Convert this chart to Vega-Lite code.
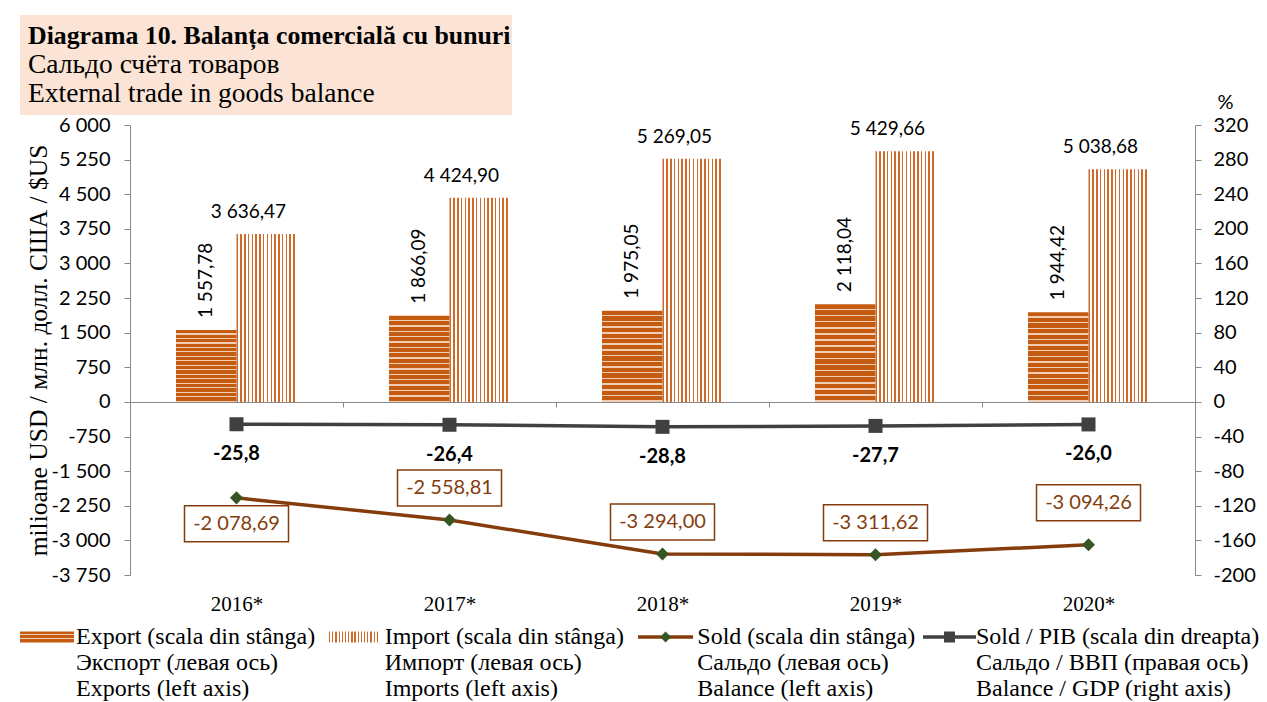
{
  "$schema": "https://vega.github.io/schema/vega-lite/v6.json",
  "padding": {"left": 20, "top": 15, "right": 5, "bottom": 0},
  "background": "white",
  "spacing": 10,
  "bounds": "flush",
  "config": {
    "view": {"stroke": null},
    "locale": {"number": {"decimal": ",", "thousands": " ", "grouping": [3], "currency": ["", ""], "minus": "-"}},
    "axis": {"domainColor": "#898989", "tickColor": "#898989", "labelFont": "Lato", "labelFontSize": 20, "labelColor": "#000000", "titleFont": "Liberation Serif", "titleFontWeight": "normal", "titleFontSize": 25.5, "titleColor": "#000000", "grid": false, "tickSize": 6, "labelOverlap": false}
  },
  "vconcat": [
    {
      "width": 492,
      "height": 100,
      "view": {"fill": "#FBE4D5", "stroke": null},
      "data": {"values": [
        {"line": 1, "text": "Diagrama 10. Balanța comercială cu bunuri"},
        {"line": 2, "text": "Сальдо счёта товаров"},
        {"line": 3, "text": "External trade in goods balance"}
      ]},
      "encoding": {
        "x": {"datum": 0, "type": "quantitative", "scale": {"domain": [0, 1]}, "axis": null},
        "y": {"field": "line", "type": "ordinal", "scale": {"type": "point", "padding": 0.7}, "axis": null},
        "text": {"field": "text"}
      },
      "layer": [
        {"transform": [{"filter": "datum.line === 1"}], "mark": {"type": "text", "align": "left", "baseline": "middle", "dx": 8, "font": "Liberation Serif", "fontSize": 25.8, "fontWeight": "bold", "color": "#000000"}},
        {"transform": [{"filter": "datum.line > 1"}], "mark": {"type": "text", "align": "left", "baseline": "middle", "dx": 8, "font": "Liberation Serif", "fontSize": 27.5, "fontWeight": "normal", "color": "#000000"}}
      ]
    },
    {
      "spacing": 10,
      "vconcat": [
        {
          "spacing": 0,
          "bounds": "flush",
          "hconcat": [
            {"width": 110, "height": 450, "data": {"values": []}, "mark": "point"},
            {
              "width": 1065,
              "height": 450,
              "data": {"values": [
                {"year": "2016*", "export": 1557.78, "import": 3636.47, "sold": -2078.69, "ratio": -25.8},
                {"year": "2017*", "export": 1866.09, "import": 4424.90, "sold": -2558.81, "ratio": -26.4},
                {"year": "2018*", "export": 1975.05, "import": 5269.05, "sold": -3294.00, "ratio": -28.8},
                {"year": "2019*", "export": 2118.04, "import": 5429.66, "sold": -3311.62, "ratio": -27.7},
                {"year": "2020*", "export": 1944.42, "import": 5038.68, "sold": -3094.26, "ratio": -26.0}
              ]},
              "encoding": {
                "x": {"field": "year", "type": "nominal", "sort": null, "title": null,
                  "scale": {"paddingInner": 0, "paddingOuter": 0},
                  "axis": {"offset": -173, "labelAngle": 0, "labelFont": "Liberation Serif", "labelFontSize": 21, "labelPadding": 186, "labelBaseline": "top", "tickBand": "extent", "tickSize": 5}}
              },
              "layer": [
                {
                  "layer": [
                    {
                      "transform": [{"fold": ["export", "import"], "as": ["series", "val"]}, {"filter": "datum.series === 'export'"}],
                      "mark": {"type": "bar", "strokeWidth": 0, "fill": {"gradient": "linear", "x1": 0, "y1": 0, "x2": 0, "y2": 1, "stops": [
                        {"offset": 0, "color": "#C55A11"}, {"offset": 0.0465, "color": "#C55A11"}, {"offset": 0.0465, "color": "#F0CDB3"}, {"offset": 0.0625, "color": "#F0CDB3"},
                        {"offset": 0.0625, "color": "#C55A11"}, {"offset": 0.109, "color": "#C55A11"}, {"offset": 0.109, "color": "#F0CDB3"}, {"offset": 0.125, "color": "#F0CDB3"},
                        {"offset": 0.125, "color": "#C55A11"}, {"offset": 0.1715, "color": "#C55A11"}, {"offset": 0.1715, "color": "#F0CDB3"}, {"offset": 0.1875, "color": "#F0CDB3"},
                        {"offset": 0.1875, "color": "#C55A11"}, {"offset": 0.234, "color": "#C55A11"}, {"offset": 0.234, "color": "#F0CDB3"}, {"offset": 0.25, "color": "#F0CDB3"},
                        {"offset": 0.25, "color": "#C55A11"}, {"offset": 0.2965, "color": "#C55A11"}, {"offset": 0.2965, "color": "#F0CDB3"}, {"offset": 0.3125, "color": "#F0CDB3"},
                        {"offset": 0.3125, "color": "#C55A11"}, {"offset": 0.359, "color": "#C55A11"}, {"offset": 0.359, "color": "#F0CDB3"}, {"offset": 0.375, "color": "#F0CDB3"},
                        {"offset": 0.375, "color": "#C55A11"}, {"offset": 0.4215, "color": "#C55A11"}, {"offset": 0.4215, "color": "#F0CDB3"}, {"offset": 0.4375, "color": "#F0CDB3"},
                        {"offset": 0.4375, "color": "#C55A11"}, {"offset": 0.484, "color": "#C55A11"}, {"offset": 0.484, "color": "#F0CDB3"}, {"offset": 0.5, "color": "#F0CDB3"},
                        {"offset": 0.5, "color": "#C55A11"}, {"offset": 0.5465, "color": "#C55A11"}, {"offset": 0.5465, "color": "#F0CDB3"}, {"offset": 0.5625, "color": "#F0CDB3"},
                        {"offset": 0.5625, "color": "#C55A11"}, {"offset": 0.609, "color": "#C55A11"}, {"offset": 0.609, "color": "#F0CDB3"}, {"offset": 0.625, "color": "#F0CDB3"},
                        {"offset": 0.625, "color": "#C55A11"}, {"offset": 0.6715, "color": "#C55A11"}, {"offset": 0.6715, "color": "#F0CDB3"}, {"offset": 0.6875, "color": "#F0CDB3"},
                        {"offset": 0.6875, "color": "#C55A11"}, {"offset": 0.734, "color": "#C55A11"}, {"offset": 0.734, "color": "#F0CDB3"}, {"offset": 0.75, "color": "#F0CDB3"},
                        {"offset": 0.75, "color": "#C55A11"}, {"offset": 0.7965, "color": "#C55A11"}, {"offset": 0.7965, "color": "#F0CDB3"}, {"offset": 0.8125, "color": "#F0CDB3"},
                        {"offset": 0.8125, "color": "#C55A11"}, {"offset": 0.859, "color": "#C55A11"}, {"offset": 0.859, "color": "#F0CDB3"}, {"offset": 0.875, "color": "#F0CDB3"},
                        {"offset": 0.875, "color": "#C55A11"}, {"offset": 0.9215, "color": "#C55A11"}, {"offset": 0.9215, "color": "#F0CDB3"}, {"offset": 0.9375, "color": "#F0CDB3"},
                        {"offset": 0.9375, "color": "#C55A11"}, {"offset": 0.984, "color": "#C55A11"}, {"offset": 0.984, "color": "#F0CDB3"}, {"offset": 1, "color": "#F0CDB3"}
                      ]}},
                      "encoding": {
                        "y": {"field": "val", "type": "quantitative", "title": "milioane USD / млн. долл. США / $US",
                          "scale": {"domain": [-3750, 6000], "nice": false, "zero": false},
                          "axis": {"orient": "left", "values": [-3750, -3000, -2250, -1500, -750, 0, 750, 1500, 2250, 3000, 3750, 4500, 5250, 6000], "tickCount": 20, "format": ",.0f", "labelPadding": 14, "titlePadding": 0, "labelOverlap": false}},
                        "xOffset": {"field": "series", "type": "nominal", "scale": {"domain": ["export", "import"], "paddingInner": 0, "paddingOuter": 0.76}}
                      }
                    },
                    {
                      "transform": [{"fold": ["export", "import"], "as": ["series", "val"]}, {"filter": "datum.series === 'import'"}],
                      "mark": {"type": "bar", "strokeWidth": 0, "fill": {"gradient": "linear", "x1": 0, "y1": 0, "x2": 1, "y2": 0, "stops": [
                        {"offset": 0, "color": "#CF6A2A"}, {"offset": 0.025, "color": "#CF6A2A"}, {"offset": 0.025, "color": "#FFFFFF"}, {"offset": 0.0625, "color": "#FFFFFF"},
                        {"offset": 0.0625, "color": "#CF6A2A"}, {"offset": 0.0875, "color": "#CF6A2A"}, {"offset": 0.0875, "color": "#FFFFFF"}, {"offset": 0.125, "color": "#FFFFFF"},
                        {"offset": 0.125, "color": "#CF6A2A"}, {"offset": 0.15, "color": "#CF6A2A"}, {"offset": 0.15, "color": "#FFFFFF"}, {"offset": 0.1875, "color": "#FFFFFF"},
                        {"offset": 0.1875, "color": "#CF6A2A"}, {"offset": 0.2125, "color": "#CF6A2A"}, {"offset": 0.2125, "color": "#FFFFFF"}, {"offset": 0.25, "color": "#FFFFFF"},
                        {"offset": 0.25, "color": "#CF6A2A"}, {"offset": 0.275, "color": "#CF6A2A"}, {"offset": 0.275, "color": "#FFFFFF"}, {"offset": 0.3125, "color": "#FFFFFF"},
                        {"offset": 0.3125, "color": "#CF6A2A"}, {"offset": 0.3375, "color": "#CF6A2A"}, {"offset": 0.3375, "color": "#FFFFFF"}, {"offset": 0.375, "color": "#FFFFFF"},
                        {"offset": 0.375, "color": "#CF6A2A"}, {"offset": 0.4, "color": "#CF6A2A"}, {"offset": 0.4, "color": "#FFFFFF"}, {"offset": 0.4375, "color": "#FFFFFF"},
                        {"offset": 0.4375, "color": "#CF6A2A"}, {"offset": 0.4625, "color": "#CF6A2A"}, {"offset": 0.4625, "color": "#FFFFFF"}, {"offset": 0.5, "color": "#FFFFFF"},
                        {"offset": 0.5, "color": "#CF6A2A"}, {"offset": 0.525, "color": "#CF6A2A"}, {"offset": 0.525, "color": "#FFFFFF"}, {"offset": 0.5625, "color": "#FFFFFF"},
                        {"offset": 0.5625, "color": "#CF6A2A"}, {"offset": 0.5875, "color": "#CF6A2A"}, {"offset": 0.5875, "color": "#FFFFFF"}, {"offset": 0.625, "color": "#FFFFFF"},
                        {"offset": 0.625, "color": "#CF6A2A"}, {"offset": 0.65, "color": "#CF6A2A"}, {"offset": 0.65, "color": "#FFFFFF"}, {"offset": 0.6875, "color": "#FFFFFF"},
                        {"offset": 0.6875, "color": "#CF6A2A"}, {"offset": 0.7125, "color": "#CF6A2A"}, {"offset": 0.7125, "color": "#FFFFFF"}, {"offset": 0.75, "color": "#FFFFFF"},
                        {"offset": 0.75, "color": "#CF6A2A"}, {"offset": 0.775, "color": "#CF6A2A"}, {"offset": 0.775, "color": "#FFFFFF"}, {"offset": 0.8125, "color": "#FFFFFF"},
                        {"offset": 0.8125, "color": "#CF6A2A"}, {"offset": 0.8375, "color": "#CF6A2A"}, {"offset": 0.8375, "color": "#FFFFFF"}, {"offset": 0.875, "color": "#FFFFFF"},
                        {"offset": 0.875, "color": "#CF6A2A"}, {"offset": 0.9, "color": "#CF6A2A"}, {"offset": 0.9, "color": "#FFFFFF"}, {"offset": 0.9375, "color": "#FFFFFF"},
                        {"offset": 0.9375, "color": "#CF6A2A"}, {"offset": 0.9625, "color": "#CF6A2A"}, {"offset": 0.9625, "color": "#FFFFFF"}, {"offset": 1, "color": "#FFFFFF"}
                      ]}},
                      "encoding": {
                        "y": {"field": "val", "type": "quantitative", "title": "milioane USD / млн. долл. США / $US"},
                        "xOffset": {"field": "series", "type": "nominal", "scale": {"domain": ["export", "import"], "paddingInner": 0, "paddingOuter": 0.76}}
                      }
                    },
                    {
                      "transform": [{"fold": ["export", "import"], "as": ["series", "val"]}, {"filter": "datum.series === 'export'"}],
                      "mark": {"type": "text", "angle": 270, "align": "left", "baseline": "middle", "dx": 12, "font": "Lato", "fontSize": 19, "color": "#000000"},
                      "encoding": {
                        "y": {"field": "val", "type": "quantitative", "title": "milioane USD / млн. долл. США / $US"},
                        "xOffset": {"field": "series", "type": "nominal", "scale": {"domain": ["export", "import"], "paddingInner": 0, "paddingOuter": 0.76}},
                        "text": {"field": "val", "type": "quantitative", "format": ",.2f"}
                      }
                    },
                    {
                      "mark": {"type": "text", "align": "center", "baseline": "middle", "dx": 12, "dy": -22, "font": "Lato", "fontSize": 19, "color": "#000000"},
                      "encoding": {
                        "y": {"field": "import", "type": "quantitative", "title": "milioane USD / млн. долл. США / $US"},
                        "text": {"field": "import", "type": "quantitative", "format": ",.2f"}
                      }
                    },
                    {
                      "mark": {"type": "line", "color": "#843C0C", "strokeWidth": 3.5},
                      "encoding": {"y": {"field": "sold", "type": "quantitative", "title": "milioane USD / млн. долл. США / $US"}}
                    },
                    {
                      "mark": {"type": "point", "shape": "diamond", "filled": true, "size": 170, "color": "#375623", "opacity": 1},
                      "encoding": {"y": {"field": "sold", "type": "quantitative", "title": "milioane USD / млн. долл. США / $US"}}
                    },
                    {
                      "mark": {"type": "point", "filled": true, "fill": "#FFFFFF", "stroke": "#843C0C", "strokeWidth": 1.5, "size": 10816, "opacity": 1},
                      "encoding": {
                        "y": {"field": "sold", "type": "quantitative", "title": "milioane USD / млн. долл. США / $US"},
                        "shape": {"condition": [
                          {"test": "datum.year === '2016*'", "value": "M-1,0.154H1V0.846H-1Z"},
                          {"test": "datum.year === '2020*'", "value": "M-1,-1.154H1V-0.462H-1Z"}
                        ], "value": "M-1,-0.961H1V-0.269H-1Z"}
                      }
                    },
                    {
                      "transform": [{"filter": "datum.year === '2016*'"}],
                      "mark": {"type": "text", "align": "center", "baseline": "middle", "dy": 26, "font": "Lato", "fontSize": 20, "color": "#843C0C"},
                      "encoding": {
                        "y": {"field": "sold", "type": "quantitative", "title": "milioane USD / млн. долл. США / $US"},
                        "text": {"field": "sold", "type": "quantitative", "format": ",.2f"}
                      }
                    },
                    {
                      "transform": [{"filter": "datum.year === '2017*' || datum.year === '2018*' || datum.year === '2019*'"}],
                      "mark": {"type": "text", "align": "center", "baseline": "middle", "dy": -32, "font": "Lato", "fontSize": 20, "color": "#843C0C"},
                      "encoding": {
                        "y": {"field": "sold", "type": "quantitative", "title": "milioane USD / млн. долл. США / $US"},
                        "text": {"field": "sold", "type": "quantitative", "format": ",.2f"}
                      }
                    },
                    {
                      "transform": [{"filter": "datum.year === '2020*'"}],
                      "mark": {"type": "text", "align": "center", "baseline": "middle", "dy": -42, "font": "Lato", "fontSize": 20, "color": "#843C0C"},
                      "encoding": {
                        "y": {"field": "sold", "type": "quantitative", "title": "milioane USD / млн. долл. США / $US"},
                        "text": {"field": "sold", "type": "quantitative", "format": ",.2f"}
                      }
                    }
                  ]
                },
                {
                  "layer": [
                    {
                      "mark": {"type": "line", "color": "#404040", "strokeWidth": 3.5},
                      "encoding": {"y": {"field": "ratio", "type": "quantitative", "title": "%",
                        "scale": {"domain": [-200, 320], "nice": false, "zero": false},
                        "axis": {"orient": "right", "values": [-200, -160, -120, -80, -40, 0, 40, 80, 120, 160, 200, 240, 280, 320], "tickCount": 20, "format": ".0f", "labelPadding": 12, "labelOverlap": false, "titleAngle": 0, "titleFont": "Lato", "titleFontSize": 20, "titleX": 30, "titleY": -23, "titleAlign": "center", "titleBaseline": "middle"}}}
                    },
                    {
                      "mark": {"type": "point", "shape": "square", "filled": true, "size": 196, "color": "#404040", "opacity": 1},
                      "encoding": {"y": {"field": "ratio", "type": "quantitative", "title": "%"}}
                    },
                    {
                      "mark": {"type": "text", "align": "center", "baseline": "middle", "dy": 30, "font": "Lato", "fontSize": 20, "fontWeight": "bold", "color": "#000000"},
                      "encoding": {
                        "y": {"field": "ratio", "type": "quantitative", "title": "%"},
                        "text": {"field": "ratio", "type": "quantitative", "format": ".1f"}
                      }
                    }
                  ]
                }
              ],
              "resolve": {"scale": {"y": "independent"}}
            }
          ]
        },
        {
          "width": 905,
          "height": 78,
          "data": {"values": [
            {"item": "Export", "line": 1, "text": "Export (scala din stânga)"},
            {"item": "Export", "line": 2, "text": "Экспорт (левая ось)"},
            {"item": "Export", "line": 3, "text": "Exports (left axis)"},
            {"item": "Import", "line": 1, "text": "Import (scala din stânga)"},
            {"item": "Import", "line": 2, "text": "Импорт (левая ось)"},
            {"item": "Import", "line": 3, "text": "Imports (left axis)"},
            {"item": "Sold", "line": 1, "text": "Sold (scala din stânga)"},
            {"item": "Sold", "line": 2, "text": "Сальдо (левая ось)"},
            {"item": "Sold", "line": 3, "text": "Balance (left axis)"},
            {"item": "Ratio", "line": 1, "text": "Sold / PIB (scala din dreapta)"},
            {"item": "Ratio", "line": 2, "text": "Сальдо / ВВП (правая ось)"},
            {"item": "Ratio", "line": 3, "text": "Balance / GDP (right axis)"}
          ]},
          "encoding": {
            "x": {"field": "item", "type": "nominal", "sort": null, "scale": {"type": "point", "padding": 0, "domain": ["Export", "Import", "Sold", "Ratio"]}, "axis": null},
            "y": {"field": "line", "type": "ordinal", "scale": {"type": "point", "padding": 0.5}, "axis": null},
            "text": {"field": "text"}
          },
          "layer": [
            {
              "transform": [{"filter": "datum.item === 'Export'"}],
              "mark": {"type": "text", "align": "left", "baseline": "middle", "dx": 56, "font": "Liberation Serif", "fontSize": 24, "color": "#000000"}
            },
            {
              "transform": [{"filter": "datum.item === 'Import'"}],
              "mark": {"type": "text", "align": "left", "baseline": "middle", "dx": 63, "font": "Liberation Serif", "fontSize": 24, "color": "#000000"}
            },
            {
              "transform": [{"filter": "datum.item === 'Sold'"}],
              "mark": {"type": "text", "align": "left", "baseline": "middle", "dx": 74, "font": "Liberation Serif", "fontSize": 24, "color": "#000000"}
            },
            {
              "transform": [{"filter": "datum.item === 'Ratio'"}],
              "mark": {"type": "text", "align": "left", "baseline": "middle", "dx": 51, "font": "Liberation Serif", "fontSize": 24, "color": "#000000"}
            },
            {
              "transform": [{"filter": "datum.item === 'Export' && datum.line === 1"}],
              "mark": {"type": "point", "filled": true, "opacity": 1, "strokeWidth": 0, "shape": "M0,-0.2H1.964V0.2H0Z", "size": 3025, "fill": {"gradient": "linear", "x1": 0, "y1": 0, "x2": 0, "y2": 1, "stops": [
                {"offset": 0, "color": "#C55A11"}, {"offset": 0.25, "color": "#C55A11"}, {"offset": 0.25, "color": "#F0CDB3"}, {"offset": 0.35, "color": "#F0CDB3"},
                {"offset": 0.35, "color": "#C55A11"}, {"offset": 0.6, "color": "#C55A11"}, {"offset": 0.6, "color": "#F0CDB3"}, {"offset": 0.7, "color": "#F0CDB3"},
                {"offset": 0.7, "color": "#C55A11"}, {"offset": 1, "color": "#C55A11"}
              ]}}
            },
            {
              "transform": [{"filter": "datum.item === 'Import' && datum.line === 1"}],
              "mark": {"type": "point", "filled": true, "opacity": 1, "strokeWidth": 0, "shape": "M0.265,-0.2H2.12V0.2H0.265Z", "size": 3025, "fill": {"gradient": "linear", "x1": 0, "y1": 0, "x2": 1, "y2": 0, "stops": [
                {"offset": 0, "color": "#CF6A2A"}, {"offset": 0.025, "color": "#CF6A2A"}, {"offset": 0.025, "color": "#FFFFFF"}, {"offset": 0.0625, "color": "#FFFFFF"},
                {"offset": 0.0625, "color": "#CF6A2A"}, {"offset": 0.0875, "color": "#CF6A2A"}, {"offset": 0.0875, "color": "#FFFFFF"}, {"offset": 0.125, "color": "#FFFFFF"},
                {"offset": 0.125, "color": "#CF6A2A"}, {"offset": 0.15, "color": "#CF6A2A"}, {"offset": 0.15, "color": "#FFFFFF"}, {"offset": 0.1875, "color": "#FFFFFF"},
                {"offset": 0.1875, "color": "#CF6A2A"}, {"offset": 0.2125, "color": "#CF6A2A"}, {"offset": 0.2125, "color": "#FFFFFF"}, {"offset": 0.25, "color": "#FFFFFF"},
                {"offset": 0.25, "color": "#CF6A2A"}, {"offset": 0.275, "color": "#CF6A2A"}, {"offset": 0.275, "color": "#FFFFFF"}, {"offset": 0.3125, "color": "#FFFFFF"},
                {"offset": 0.3125, "color": "#CF6A2A"}, {"offset": 0.3375, "color": "#CF6A2A"}, {"offset": 0.3375, "color": "#FFFFFF"}, {"offset": 0.375, "color": "#FFFFFF"},
                {"offset": 0.375, "color": "#CF6A2A"}, {"offset": 0.4, "color": "#CF6A2A"}, {"offset": 0.4, "color": "#FFFFFF"}, {"offset": 0.4375, "color": "#FFFFFF"},
                {"offset": 0.4375, "color": "#CF6A2A"}, {"offset": 0.4625, "color": "#CF6A2A"}, {"offset": 0.4625, "color": "#FFFFFF"}, {"offset": 0.5, "color": "#FFFFFF"},
                {"offset": 0.5, "color": "#CF6A2A"}, {"offset": 0.525, "color": "#CF6A2A"}, {"offset": 0.525, "color": "#FFFFFF"}, {"offset": 0.5625, "color": "#FFFFFF"},
                {"offset": 0.5625, "color": "#CF6A2A"}, {"offset": 0.5875, "color": "#CF6A2A"}, {"offset": 0.5875, "color": "#FFFFFF"}, {"offset": 0.625, "color": "#FFFFFF"},
                {"offset": 0.625, "color": "#CF6A2A"}, {"offset": 0.65, "color": "#CF6A2A"}, {"offset": 0.65, "color": "#FFFFFF"}, {"offset": 0.6875, "color": "#FFFFFF"},
                {"offset": 0.6875, "color": "#CF6A2A"}, {"offset": 0.7125, "color": "#CF6A2A"}, {"offset": 0.7125, "color": "#FFFFFF"}, {"offset": 0.75, "color": "#FFFFFF"},
                {"offset": 0.75, "color": "#CF6A2A"}, {"offset": 0.775, "color": "#CF6A2A"}, {"offset": 0.775, "color": "#FFFFFF"}, {"offset": 0.8125, "color": "#FFFFFF"},
                {"offset": 0.8125, "color": "#CF6A2A"}, {"offset": 0.8375, "color": "#CF6A2A"}, {"offset": 0.8375, "color": "#FFFFFF"}, {"offset": 0.875, "color": "#FFFFFF"},
                {"offset": 0.875, "color": "#CF6A2A"}, {"offset": 0.9, "color": "#CF6A2A"}, {"offset": 0.9, "color": "#FFFFFF"}, {"offset": 0.9375, "color": "#FFFFFF"},
                {"offset": 0.9375, "color": "#CF6A2A"}, {"offset": 0.9625, "color": "#CF6A2A"}, {"offset": 0.9625, "color": "#FFFFFF"}, {"offset": 1, "color": "#FFFFFF"}
              ]}}
            },
            {
              "transform": [{"filter": "datum.item === 'Sold' && datum.line === 1"}],
              "mark": {"type": "point", "filled": true, "opacity": 1, "strokeWidth": 0, "shape": "M0.535,-0.06H2.535V0.06H0.535Z", "size": 3025, "fill": "#843C0C"}
            },
            {
              "transform": [{"filter": "datum.item === 'Sold' && datum.line === 1"}],
              "mark": {"type": "point", "filled": true, "opacity": 1, "strokeWidth": 0, "shape": "M1.335,0L1.535,-0.2L1.735,0L1.535,0.2Z", "size": 3025, "fill": "#375623"}
            },
            {
              "transform": [{"filter": "datum.item === 'Ratio' && datum.line === 1"}],
              "mark": {"type": "point", "filled": true, "opacity": 1, "strokeWidth": 0, "shape": "M-0.073,-0.06H1.855V0.06H-0.073Z", "size": 3025, "fill": "#404040"}
            },
            {
              "transform": [{"filter": "datum.item === 'Ratio' && datum.line === 1"}],
              "mark": {"type": "point", "filled": true, "opacity": 1, "strokeWidth": 0, "shape": "M0.691,-0.2H1.091V0.2H0.691Z", "size": 3025, "fill": "#404040"}
            }
          ]
        }
      ]
    }
  ]
}
